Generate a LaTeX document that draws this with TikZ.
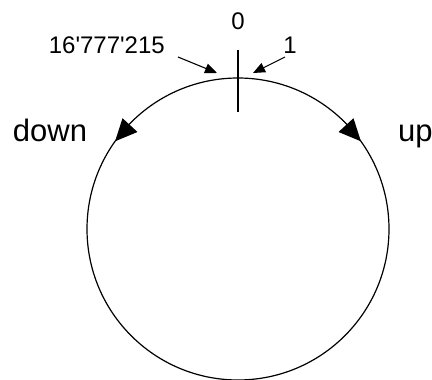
\documentclass[tikz,border=0pt]{standalone}
\usepackage{fontspec}
\setmainfont{Liberation Sans}
\usetikzlibrary{arrows.meta}
\begin{document}
\begin{tikzpicture}[x=1pt,y=-1pt,
  ring/.style={line width=1.2pt},
  dirarrow/.style={line width=1.3pt,-{Triangle[length=22pt,width=20pt]}},
  ptr/.style={line width=1.1pt,-{Triangle[length=12pt,width=10pt]}},
  small/.style={font=\fontsize{24}{28}\selectfont,inner sep=0pt},
  big/.style={font=\fontsize{31}{36}\selectfont,inner sep=0pt}]
\useasboundingbox (0,0) rectangle (432,380);
\coordinate (c) at (238,229);
\draw[ring] (c) circle[radius=151];
\coordinate (tailR) at (358.6,138.8);
\coordinate (tipR) at (360.9,141.3);
\coordinate (tailL) at (117.4,138.8);
\coordinate (tipL) at (115.1,141.3);
\draw[dirarrow] (tailR) -- (tipR);
\draw[dirarrow] (tailL) -- (tipL);
\coordinate (t1) at (238,50);
\coordinate (t2) at (238,112);
\draw[line width=2pt] (t1) -- (t2);
\node[small,anchor=base] (zero) at (238,30) {0};
\node[small,anchor=base] (one) at (290,53) {1};
\node[small,anchor=base east] (max) at (165,53) {16\textquotesingle777\textquotesingle215};
\node[big,anchor=base] (down) at (50,141) {down};
\node[big,anchor=base west] (up) at (398,141) {up};
\coordinate (a1) at (178,57);
\coordinate (b1) at (217,73);
\coordinate (a2) at (285,57);
\coordinate (b2) at (253,73);
\draw[ptr] (a1) -- (b1);
\draw[ptr] (a2) -- (b2);
\end{tikzpicture}
\end{document}
